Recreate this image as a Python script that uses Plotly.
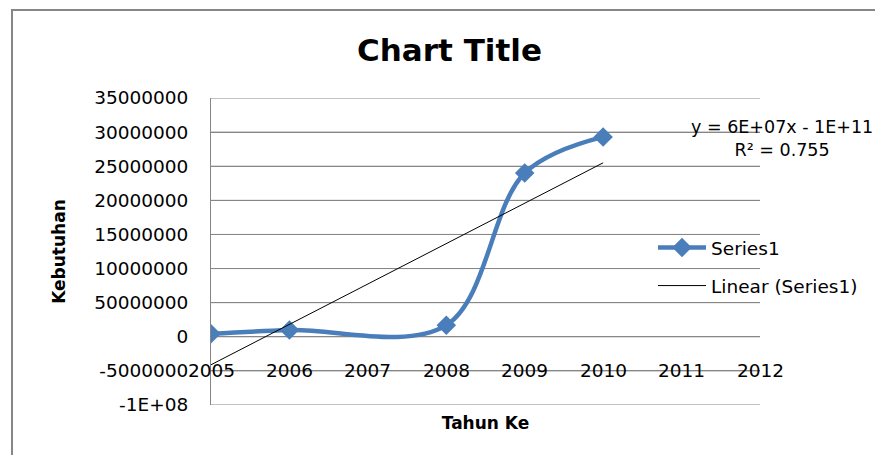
import numpy as np
import plotly.graph_objects as go

# ---- data ----
years = [2005, 2006, 2008, 2009, 2010]
kebutuhan = [450000, 1000000, 1700000, 24000000, 29300000]

x_ticks = [2005, 2006, 2007, 2008, 2009, 2010, 2011, 2012]
x_ticktext = ["2005", "2006", "2007", "2008", "2009", "2010", "2011", "2012"]
y_ticks = [35000000, 30000000, 25000000, 20000000, 15000000, 10000000,
           5000000, 0, -5000000, -10000000]
y_ticktext = ["35000000", "30000000", "25000000", "20000000", "15000000",
              "10000000", "50000000", "0", "-5000000", "-1E+08"]
equation_text = "y = 6E+07x - 1E+11<br>R² = 0.755"

# linear trendline (least squares over the series, as Excel does)
slope, intercept = np.polyfit(years, kebutuhan, 1)
trend_x = [years[0], years[-1]]
trend_y = [slope * v + intercept for v in trend_x]

FONT = "DejaVu Sans"
BLUE = "#4A7EBB"
GRID = "#868686"

fig = go.Figure()
fig.add_trace(go.Scatter(
    x=years, y=kebutuhan, name="Series1", mode="lines+markers",
    line=dict(color=BLUE, width=4.5, shape="spline", smoothing=1),
    marker=dict(symbol="diamond", size=15, color=BLUE),
    legendgroup="a",
))
fig.add_trace(go.Scatter(
    x=trend_x, y=trend_y, name="Linear (Series1)", mode="lines",
    line=dict(color="black", width=1),
    legendgroup="b",
))

W, H = 875, 455
L, R, T, B = 211, 115, 98, 50
pw, ph = W - L - R, H - T - B

def px_x(p):
    return (p - L) / pw

def px_y(p):
    return (H - B - p) / ph

annotations = []
for xv, txt in zip(x_ticks, x_ticktext):
    annotations.append(dict(x=xv, y=-5000000, xref="x", yref="y", text=txt,
                            showarrow=False, xanchor="center", yanchor="middle",
                            font=dict(family=FONT, size=18.5, color="black")))
annotations.append(dict(x=px_x(782), y=px_y(138), xref="paper", yref="paper",
                        text=equation_text, showarrow=False, align="center",
                        xanchor="center", yanchor="middle",
                        font=dict(family=FONT, size=17.5, color="black")))

shapes = [dict(type="rect", xref="paper", yref="paper",
               x0=px_x(12), x1=px_x(885), y0=px_y(10), y1=px_y(465),
               line=dict(color=GRID, width=2), fillcolor="rgba(0,0,0,0)",
               layer="below")]
for yv in y_ticks:
    shapes.append(dict(type="line", xref="paper", yref="y", x0=0, x1=1,
                       y0=yv, y1=yv, line=dict(color=GRID, width=1),
                       layer="below"))

fig.update_layout(
    width=W, height=H,
    margin=dict(l=L, r=R, t=T, b=B, autoexpand=False),
    paper_bgcolor="white", plot_bgcolor="white",
    title=dict(text="<b>Chart Title</b>", x=449.5 / W, y=1 - 50 / H,
               xanchor="center", yanchor="middle", xref="container", yref="container",
               font=dict(family=FONT, size=31, color="black")),
    font=dict(family=FONT, size=18.5, color="black"),
    xaxis=dict(range=[2005, 2012], tickvals=x_ticks, showticklabels=False,
               showgrid=False, zeroline=False, showline=False, ticks="",
               title=dict(text="<b>Tahun Ke</b>", standoff=12,
                          font=dict(family=FONT, size=17, color="black"))),
    yaxis=dict(range=[-10000000, 35000000], tickvals=y_ticks, ticktext=y_ticktext,
               showgrid=True, gridcolor=GRID, gridwidth=1, zeroline=False,
               showline=True, linecolor=GRID, linewidth=1, ticks="",
               ticklabelstandoff=18,
               tickfont=dict(family=FONT, size=18.5, color="black"),
               title=dict(text="<b>Kebutuhan</b>", standoff=24,
                          font=dict(family=FONT, size=17, color="black"))),
    legend=dict(x=px_x(653), y=px_y(229), xanchor="left", yanchor="top",
                xref="paper", yref="paper", traceorder="grouped", tracegroupgap=11,
                bgcolor="rgba(0,0,0,0)", borderwidth=0, itemwidth=48,
                font=dict(family=FONT, size=18.5, color="black")),
    showlegend=True,
    annotations=annotations,
    shapes=shapes,
)

fig.write_html("out.html")
